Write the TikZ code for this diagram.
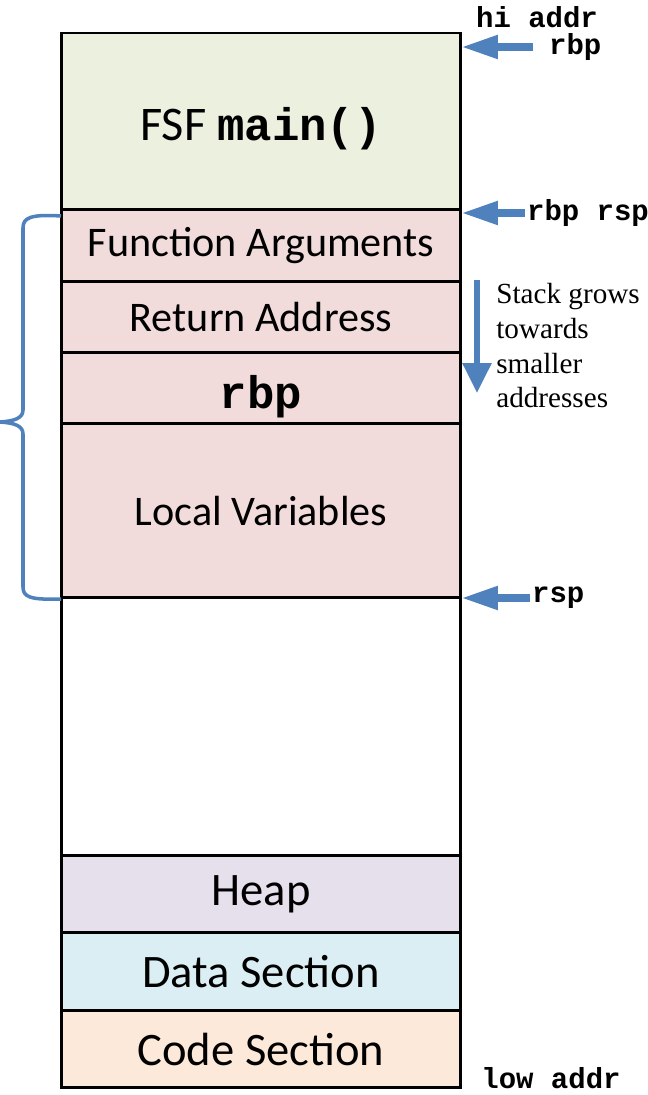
\documentclass[tikz,border=0pt]{standalone}
\usepackage{fontspec}
\setmainfont{Carlito}
\newfontfamily\codefont{Liberation Mono}
\newfontfamily\notefont{Liberation Serif}
\usetikzlibrary{arrows.meta,positioning}

\definecolor{fsfgreen}{HTML}{EBF1DE}
\definecolor{framepink}{HTML}{F2DCDB}
\definecolor{heaplilac}{HTML}{E5E0EC}
\definecolor{datablue}{HTML}{DBEEF4}
\definecolor{codepeach}{HTML}{FDE9D9}
\definecolor{ptrblue}{HTML}{4F81BD}

\begin{document}
\begin{tikzpicture}[x=0.02cm,y=-0.02cm,
  seg/.style={draw=black,line width=1.7pt,minimum width=8cm,outer sep=0pt,inner sep=0pt},
  big/.style={font=\fontsize{26.5}{30}\selectfont},
  mid/.style={font=\fontsize{24}{28}\selectfont},
  addr/.style={font=\codefont\bfseries\fontsize{16.5}{19}\selectfont,inner sep=1pt},
  ptr/.style={draw=ptrblue,line width=4.5pt,-{Triangle[length=7.4mm,width=4.4mm]}},
  growarrow/.style={draw=ptrblue,line width=3.4pt,-{Triangle[length=6mm,width=5.6mm]}},
  note/.style={font=\notefont\fontsize{16.6}{19.8}\selectfont,align=left,inner sep=0pt},
]
\useasboundingbox (0,0) rectangle (648,1095);

% memory segments, top to bottom
\node[seg,big,fill=fsfgreen,minimum height=3.54cm,anchor=north] (fsf) at (261,33)
  {\raisebox{-4pt}[\height][\depth]{\fontsize{27.5}{30}\selectfont FSF {\codefont\bfseries\fontsize{26}{30}\selectfont main()}}};
\node[seg,mid,fill=framepink,minimum height=1.44cm,below=0pt of fsf] (fa) {Function Arguments};
\node[seg,mid,fill=framepink,minimum height=1.42cm,below=0pt of fa] (ra) {Return Address};
\node[seg,fill=framepink,minimum height=1.42cm,below=0pt of ra,
  font=\codefont\bfseries\fontsize{26}{30}\selectfont] (oldrbp) {\raisebox{-4.5pt}[\height][\depth]{rbp}};
\node[seg,mid,fill=framepink,minimum height=3.48cm,below=0pt of oldrbp] (lv) {Local Variables};
\node[seg,fill=white,minimum height=5.16cm,below=0pt of lv] (free) {};
\node[seg,big,fill=heaplilac,minimum height=1.54cm,below=0pt of free] (heap) {Heap};
\node[seg,big,fill=datablue,minimum height=1.56cm,below=0pt of heap] (data) {Data Section};
\node[seg,big,fill=codepeach,minimum height=1.54cm,below=0pt of data] (code) {Code Section};

% address labels and pointers
\node[addr] (hi) at (537,17) {hi addr};
\node[addr,anchor=west] (rbptop) at (547,47) {rbp};
\draw[ptr] ([xshift=-0.28cm]rbptop.west) -- (rbptop.west -| fsf.east);
\node[addr,anchor=west] (rbprsp) at (525,213) {rbp rsp};
\draw[ptr] (rbprsp.west) -- (rbprsp.west -| fa.east);
\node[addr,anchor=west] (rsp) at (530,598) {rsp};
\draw[ptr] (rsp.west) -- (rsp.west -| lv.south east);
\node[addr] (low) at (551,1078) {low addr};

% growth direction
\node[note,anchor=north west] (grownote) at (496,283) {Stack grows\\towards\\smaller\\addresses};
\coordinate (growtop) at (477,280);
\coordinate (growend) at (477,393);
\draw[growarrow] (growtop) -- (growend);

% brace round the frame
\coordinate (bracetop) at (61,216);
\coordinate (bracetip) at (0,422);
\coordinate (bracebot) at (61,599);
\draw[ptrblue,line width=2pt]
  (bracetop) .. controls (30,214) and (23,218) .. (23,228) -- (23,410)
  .. controls (23,418) and (15,421) .. (bracetip)
  .. controls (15,423) and (23,426) .. (23,434) -- (23,587)
  .. controls (23,597) and (30,600) .. (bracebot);
\end{tikzpicture}
\end{document}
